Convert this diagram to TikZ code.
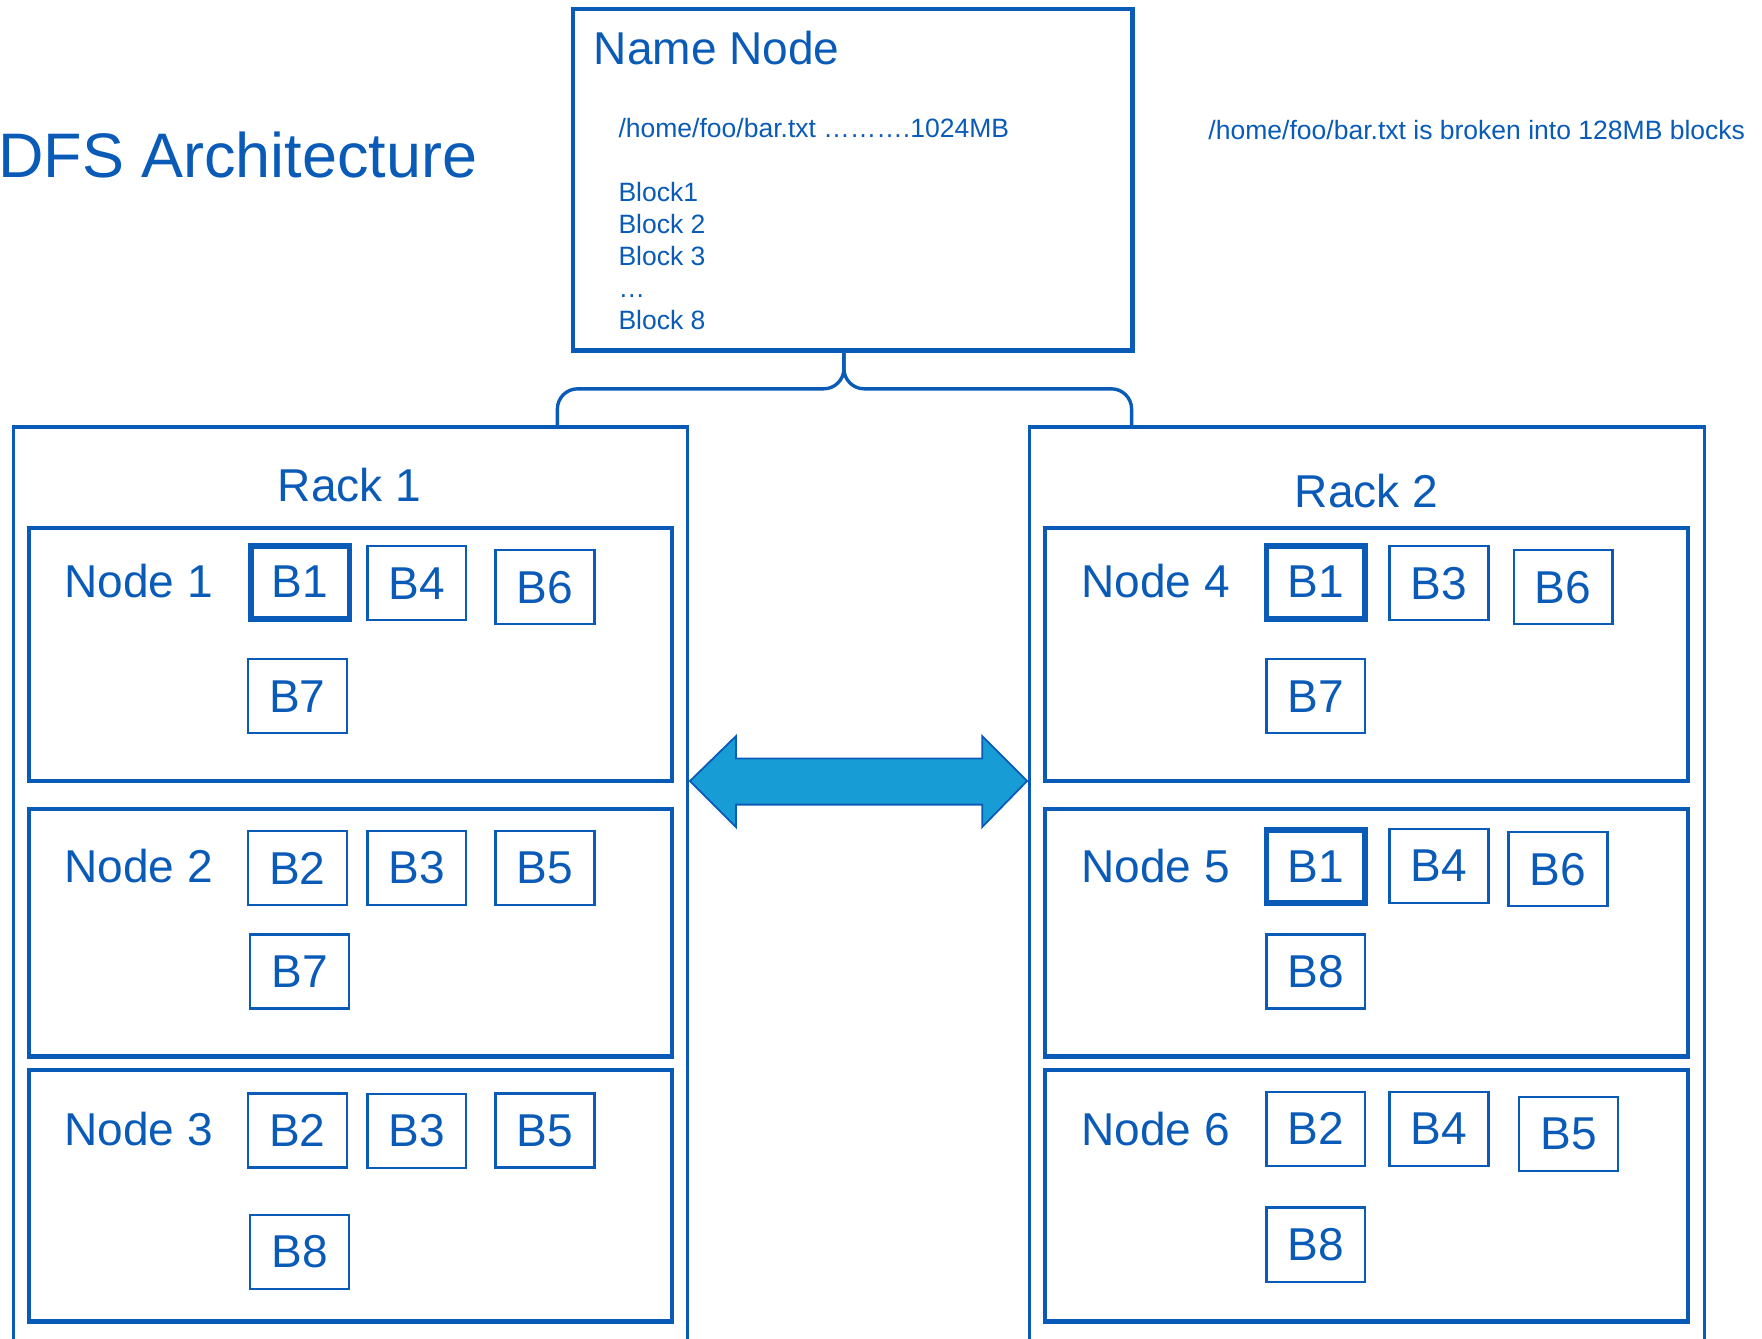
\documentclass[tikz,border=0pt]{standalone}
\usepackage{fontspec}
\setmainfont{Liberation Sans}
\usetikzlibrary{positioning}

\definecolor{hblue}{HTML}{0A5BB8}
\definecolor{arrowblue}{HTML}{189CD6}

\tikzset{
  bigtxt/.style={text=hblue, inner sep=0pt, font=\fontsize{20.5}{24}\selectfont},
  smalltxt/.style={text=hblue, inner sep=0pt, font=\fontsize{11.8}{14.25}\selectfont},
  blk/.style={draw=hblue, line width=1pt, minimum width=44pt, minimum height=33pt,
    inner sep=0pt, text=hblue, font=\fontsize{20.5}{24}\selectfont},
  blkmain/.style={blk, line width=2.6pt, minimum width=44pt, minimum height=32.5pt},
  nodebox/.style={draw=hblue, line width=2pt},
  rackbox/.style={draw=hblue, line width=1.5pt}
}

\begin{document}
\begin{tikzpicture}[x=0.5pt, y=-0.5pt]
  \useasboundingbox (0,0) rectangle (1568,1191);
  \clip (0,0) rectangle (1568,1191);

  % Title
  \node[bigtxt, anchor=west, font=\fontsize{28}{32}\selectfont] (title) at (-2,138) {DFS Architecture};

  % Name Node
  \draw[nodebox] (510,8) rectangle (1008,312);
  \coordinate (nnbot) at (751,312);
  \node[bigtxt, anchor=west] (nnlabel) at (528,43) {Name Node};
  \node[smalltxt, anchor=west] (file) at (550,114) {/home/foo/bar.txt ……….1024MB};
  \node[smalltxt, anchor=north west, align=left] (blocks) at (550,162)
    {Block1\\Block 2\\Block 3\\…\\Block 8};
  \node[smalltxt, anchor=west] (note) at (1075,116) {/home/foo/bar.txt is broken into 128MB blocks};

  % Racks
  \draw[rackbox] (12,380) rectangle (612,1210);
  \draw[rackbox] (916,380) rectangle (1517,1210);
  \coordinate (rack1top) at (496,380);
  \coordinate (rack2top) at (1007,380);
  \node[bigtxt] (rack1) at (311,432) {Rack 1};
  \node[bigtxt] (rack2) at (1216,437) {Rack 2};

  % Name Node to racks
  \draw[hblue, line width=1.5pt, rounded corners=9pt] (nnbot) -- (751,346) -- (496,346) -- (rack1top);
  \draw[hblue, line width=1.5pt, rounded corners=9pt] (nnbot) -- (751,346) -- (1007,346) -- (rack2top);

  % Data nodes, rack 1
  \draw[nodebox] (26,470) rectangle (598,695);
  \draw[nodebox] (26,720) rectangle (598,940);
  \draw[nodebox] (26,952) rectangle (598,1176);
  \node[bigtxt, anchor=west] (node1) at (57,517) {Node 1};
  \node[bigtxt, anchor=west] (node2) at (57,771) {Node 2};
  \node[bigtxt, anchor=west] (node3) at (57,1005) {Node 3};

  \node[blkmain] (n1b1) at (267,518) {B1};
  \node[blk] (n1b4) at (371,519) {B4};
  \node[blk] (n1b6) at (485,522.5) {B6};
  \node[blk] (n1b7) at (264.5,619.5) {B7};

  \node[blk] (n2b2) at (264.5,772.5) {B2};
  \node[blk] (n2b3) at (371,772.5) {B3};
  \node[blk] (n2b5) at (485,772.5) {B5};
  \node[blk] (n2b7) at (266.5,864.5) {B7};

  \node[blk] (n3b2) at (264.5,1006) {B2};
  \node[blk] (n3b3) at (371,1006.5) {B3};
  \node[blk] (n3b5) at (485,1006) {B5};
  \node[blk] (n3b8) at (266.5,1114) {B8};

  % Data nodes, rack 2
  \draw[nodebox] (930,470) rectangle (1502,695);
  \draw[nodebox] (930,720) rectangle (1502,940);
  \draw[nodebox] (930,952) rectangle (1502,1176);
  \node[bigtxt, anchor=west] (node4) at (962,517) {Node 4};
  \node[bigtxt, anchor=west] (node5) at (962,771) {Node 5};
  \node[bigtxt, anchor=west] (node6) at (962,1005) {Node 6};

  \node[blkmain] (n4b1) at (1171,518) {B1};
  \node[blk] (n4b3) at (1280.5,519) {B3};
  \node[blk] (n4b6) at (1391,522.5) {B6};
  \node[blk] (n4b7) at (1171,619.5) {B7};

  \node[blkmain] (n5b1) at (1171,771) {B1};
  \node[blk] (n5b4) at (1280.5,770.5) {B4};
  \node[blk] (n5b6) at (1386.5,773.5) {B6};
  \node[blk] (n5b8) at (1171,864.5) {B8};

  \node[blk] (n6b2) at (1171,1004.5) {B2};
  \node[blk] (n6b4) at (1280.5,1004.5) {B4};
  \node[blk] (n6b5) at (1396,1009) {B5};
  \node[blk] (n6b8) at (1171,1107.5) {B8};

  % Link between racks
  \coordinate (lefttip) at (614,695);
  \coordinate (righttip) at (914,695);
  \draw[hblue, fill=arrowblue, line width=0.8pt, line join=miter]
    (lefttip) -- (655,655) -- (655,675) -- (874,675) -- (874,655) -- (righttip)
    -- (874,736) -- (874,716) -- (655,716) -- (655,736) -- cycle;
\end{tikzpicture}
\end{document}
